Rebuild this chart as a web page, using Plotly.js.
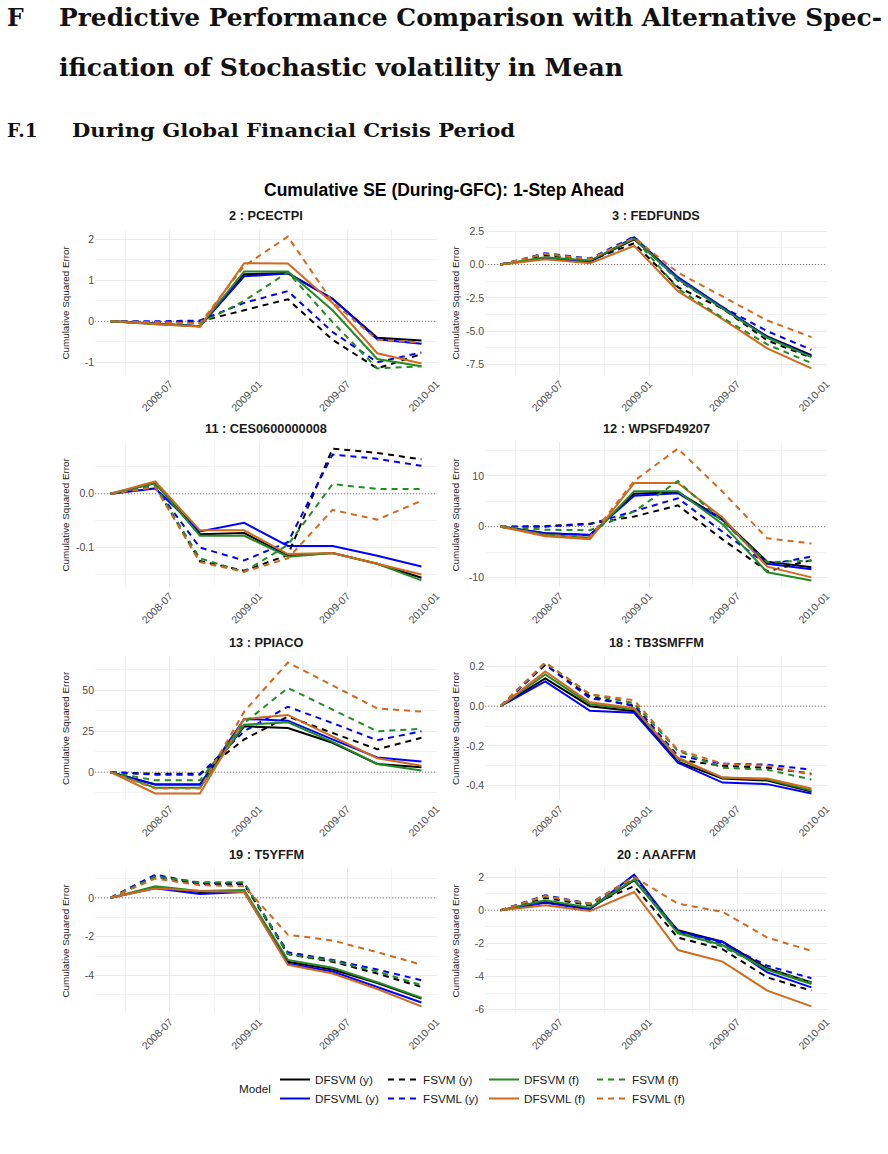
<!DOCTYPE html>
<html>
<head>
<meta charset="utf-8">
<script src="https://cdn.plot.ly/plotly-3.0.1.min.js"></script>
<style>
  html, body { margin: 0; padding: 0; background: #ffffff; }
  #page { position: relative; width: 888px; height: 1154px; overflow: hidden; }
  #chart { position: absolute; left: 0; top: 0; width: 888px; height: 1154px; }
  #heading { position: absolute; left: 0; top: 0; pointer-events: none; }
  #heading text { font-family: "DejaVu Serif", "Liberation Serif", serif; font-weight: bold; fill: #111111; }
</style>
</head>
<body>
<div id="page">
  <div id="chart"></div>
  <svg id="heading" width="888" height="160">
    <text x="7" y="26" font-size="23.5">F</text>
    <text x="59" y="26" font-size="23.5" textLength="823" lengthAdjust="spacingAndGlyphs">Predictive Performance Comparison with Alternative Spec-</text>
    <text x="59" y="76" font-size="23.5" textLength="564" lengthAdjust="spacingAndGlyphs">ification of Stochastic volatility in Mean</text>
    <text x="7" y="137" font-size="18.5">F.1</text>
    <text x="72" y="137" font-size="18.5" textLength="443" lengthAdjust="spacingAndGlyphs">During Global Financial Crisis Period</text>
  </svg>
</div>
<script>
// Forecast origins (quarterly) and model names
const dates = ["2008-03-01", "2008-06-01", "2008-09-01", "2008-12-01",
               "2009-03-01", "2009-06-01", "2009-09-01", "2009-12-01"];
const models = ["DFSVM (y)", "DFSVML (y)", "FSVM (y)", "FSVML (y)",
                "DFSVM (f)", "DFSVML (f)", "FSVM (f)", "FSVML (f)"];

// Cumulative squared error by series, one array per model (same order as `models`)
const PCECTPI = [
  [0, -0.05, -0.12, 1.15, 1.18, 0.55, -0.40, -0.47],
  [0, -0.06, -0.12, 1.10, 1.17, 0.55, -0.44, -0.55],
  [0, -0.02, 0.00, 0.27, 0.54, -0.45, -1.15, -0.80],
  [0, 0.00, 0.02, 0.45, 0.74, -0.26, -1.00, -0.76],
  [0, -0.07, -0.12, 1.22, 1.22, 0.27, -0.92, -1.10],
  [0, -0.06, -0.13, 1.42, 1.41, 0.45, -0.78, -1.03],
  [0, -0.02, -0.05, 0.50, 1.20, -0.02, -1.15, -1.10],
  [0, -0.03, -0.05, 1.35, 2.07, 0.47, -0.45, -0.52]
];
const FEDFUNDS = [
  [0, 0.50, 0.25, 1.90, -1.00, -3.30, -5.40, -6.80],
  [0, 0.50, 0.20, 2.05, -0.95, -3.20, -5.45, -6.90],
  [0, 0.70, 0.30, 1.60, -1.70, -3.30, -5.70, -7.00],
  [0, 0.85, 0.45, 2.10, -1.20, -3.20, -5.00, -6.40],
  [0, 0.55, 0.30, 1.95, -1.10, -3.30, -5.50, -6.95],
  [0, 0.40, 0.10, 1.40, -2.00, -4.10, -6.30, -7.80],
  [0, 0.80, 0.40, 2.00, -1.80, -4.00, -6.00, -7.40],
  [0, 0.80, 0.40, 2.00, -0.60, -2.40, -4.20, -5.45]
];
const CES0600000008 = [
  [0, 0.020, -0.075, -0.073, -0.115, -0.110, -0.130, -0.156],
  [0, 0.010, -0.070, -0.054, -0.097, -0.097, -0.115, -0.135],
  [0, 0.015, -0.125, -0.143, -0.114, 0.084, 0.076, 0.064],
  [0, 0.012, -0.100, -0.124, -0.090, 0.073, 0.065, 0.052],
  [0, 0.020, -0.078, -0.078, -0.117, -0.110, -0.130, -0.161],
  [0, 0.023, -0.068, -0.068, -0.112, -0.110, -0.130, -0.150],
  [0, 0.015, -0.120, -0.145, -0.095, 0.018, 0.009, 0.009],
  [0, 0.012, -0.127, -0.145, -0.120, -0.030, -0.048, -0.013]
];
const WPSFD49207 = [
  [0, -1.3, -1.7, 6.5, 6.8, 1.5, -6.9, -8.0],
  [0, -1.3, -1.6, 6.1, 6.6, 1.3, -7.3, -8.4],
  [0, 0.1, 0.6, 2.0, 4.2, -2.5, -8.8, -6.6],
  [0, 0.0, 0.5, 3.0, 5.6, -1.0, -7.5, -5.9],
  [0, -1.6, -2.2, 7.0, 7.0, 0.5, -9.0, -10.6],
  [0, -1.9, -2.5, 8.6, 8.6, 1.8, -7.9, -10.0],
  [0, -0.6, -0.7, 3.0, 9.0, 1.0, -7.0, -6.7],
  [0, -1.7, -2.0, 9.0, 15.4, 6.9, -2.3, -3.3]
];
const PPIACO = [
  [0, -7.5, -7.5, 28.0, 27.0, 18.0, 5.0, 3.0],
  [0, -7.5, -7.5, 32.5, 31.5, 20.0, 9.0, 6.5],
  [0, -1.0, -1.0, 20.0, 34.0, 24.0, 14.0, 21.0],
  [0, -1.5, -1.5, 25.0, 40.0, 30.0, 19.5, 25.0],
  [0, -9.5, -9.5, 29.0, 30.5, 18.5, 5.0, 1.0],
  [0, -13.0, -13.0, 32.5, 35.0, 21.5, 8.5, 4.0],
  [0, -5.0, -5.0, 30.0, 51.5, 38.0, 25.0, 26.5],
  [0, -10.0, -10.0, 37.0, 67.0, 53.0, 39.0, 37.0]
];
const TB3SMFFM = [
  [0, 0.140, 0.000, -0.025, -0.280, -0.365, -0.375, -0.430],
  [0, 0.125, -0.023, -0.033, -0.285, -0.385, -0.393, -0.440],
  [0, 0.210, 0.050, 0.000, -0.270, -0.300, -0.310, -0.340],
  [0, 0.210, 0.040, 0.005, -0.250, -0.290, -0.295, -0.320],
  [0, 0.160, 0.010, -0.015, -0.265, -0.360, -0.370, -0.425],
  [0, 0.175, 0.020, -0.010, -0.260, -0.360, -0.365, -0.415],
  [0, 0.220, 0.060, 0.015, -0.225, -0.310, -0.320, -0.370],
  [0, 0.220, 0.060, 0.030, -0.220, -0.290, -0.300, -0.345]
];
const T5YFFM = [
  [0, 0.55, 0.30, 0.35, -3.30, -3.70, -4.40, -5.20],
  [0, 0.50, 0.20, 0.30, -3.40, -3.80, -4.60, -5.40],
  [0, 1.10, 0.70, 0.70, -2.90, -3.30, -3.90, -4.60],
  [0, 1.20, 0.75, 0.75, -2.80, -3.20, -3.70, -4.25],
  [0, 0.60, 0.35, 0.40, -3.20, -3.60, -4.35, -5.15],
  [0, 0.50, 0.35, 0.30, -3.45, -3.90, -4.70, -5.60],
  [0, 1.10, 0.80, 0.80, -2.90, -3.25, -3.80, -4.50],
  [0, 1.00, 0.65, 0.60, -1.90, -2.20, -2.80, -3.45]
];
const AAAFFM = [
  [0, 0.50, 0.10, 1.80, -1.20, -1.90, -3.50, -4.35],
  [0, 0.45, 0.05, 2.15, -1.30, -1.90, -3.75, -4.65],
  [0, 0.75, 0.30, 1.45, -1.65, -2.35, -4.05, -4.85],
  [0, 0.90, 0.40, 2.00, -1.30, -2.00, -3.35, -4.10],
  [0, 0.60, 0.15, 1.85, -1.40, -2.10, -3.60, -4.45],
  [0, 0.30, -0.05, 1.10, -2.40, -3.10, -4.85, -5.80],
  [0, 0.85, 0.35, 1.90, -1.30, -2.20, -3.55, -4.35],
  [0, 0.85, 0.40, 2.00, 0.40, -0.10, -1.65, -2.45]
];

// Panel titles and y tick values
const panelTitles = ["2 : PCECTPI", "3 : FEDFUNDS", "11 : CES0600000008", "12 : WPSFD49207",
                     "13 : PPIACO", "18 : TB3SMFFM", "19 : T5YFFM", "20 : AAAFFM"];
const yTicks = [
  [-1, 0, 1, 2],
  [-7.5, -5, -2.5, 0, 2.5],
  [-0.1, 0],
  [-10, 0, 10],
  [0, 25, 50],
  [-0.4, -0.2, 0, 0.2],
  [-4, -2, 0],
  [-6, -4, -2, 0, 2]
];
const yTickDecimals = [0, 1, 1, 0, 0, 1, 0, 0];
const xTicks = ["2008-07-01", "2009-01-01", "2009-07-01", "2010-01-01"];
const xTickLabels = ["2008-07", "2009-01", "2009-07", "2010-01"];
const xMinorTicks = ["2008-04-01", "2008-10-01", "2009-04-01", "2009-10-01"];

const panelData = [PCECTPI, FEDFUNDS, CES0600000008, WPSFD49207, PPIACO, TB3SMFFM, T5YFFM, AAAFFM];

// ---- styling ----
const lineColor = {
  "DFSVM (y)": "#000000", "FSVM (y)": "#000000",
  "DFSVML (y)": "#0000FF", "FSVML (y)": "#0000FF",
  "DFSVM (f)": "#228B22", "FSVM (f)": "#228B22",
  "DFSVML (f)": "#D2691E", "FSVML (f)": "#D2691E"
};
const isDashed = m => m.startsWith("FSVM");
const SANS = "Liberation Sans, Arial, Helvetica, sans-serif";
const W = 888, H = 1154;

// plot areas in page pixels
const colX = [[95, 437], [485, 827]];
const rowY = [[230, 375], [442, 587], [656, 800], [868, 1013]];
const fx = px => px / W;
const fy = py => 1 - py / H;

const t0 = Date.parse(dates[0]), t1 = Date.parse(dates[dates.length - 1]);
const xPad = (t1 - t0) * 0.05;
const iso = t => new Date(t).toISOString().slice(0, 10);
const xRange = [iso(t0 - xPad), iso(t1 + xPad)];

const fmtTick = (v, d) => {
  const s = Math.abs(v).toFixed(d);
  return (v < 0 ? "-" : "") + s;
};

const traces = [];
const layout = {
  width: W, height: H,
  margin: {l: 0, r: 0, t: 0, b: 0},
  paper_bgcolor: "#ffffff",
  plot_bgcolor: "#ffffff",
  font: {family: SANS, color: "#1A1A1A"},
  showlegend: true,
  annotations: [],
  shapes: []
};

panelData.forEach((series, p) => {
  const n = p + 1;
  const row = Math.floor(p / 2), col = p % 2;
  const xa = "x" + (n === 1 ? "" : n), ya = "y" + (n === 1 ? "" : n);
  const xKey = "xaxis" + (n === 1 ? "" : n), yKey = "yaxis" + (n === 1 ? "" : n);

  let lo = Infinity, hi = -Infinity;
  series.forEach(arr => arr.forEach(v => { lo = Math.min(lo, v); hi = Math.max(hi, v); }));
  const pad = (hi - lo) * 0.05;

  const ticks = yTicks[p];
  const step = ticks.length > 1 ? ticks[1] - ticks[0] : 1;
  const minor = [];
  for (let v = ticks[0] - step * 2; v <= ticks[ticks.length - 1] + step * 2; v += step) {
    minor.push(+(v + step / 2).toFixed(6));
  }

  layout[xKey] = {
    domain: [fx(colX[col][0]), fx(colX[col][1])],
    anchor: ya,
    type: "date",
    range: xRange,
    tickmode: "array",
    tickvals: xTicks,
    ticktext: xTickLabels,
    tickangle: -45,
    tickfont: {family: SANS, size: 10.5, color: "#4D4D4D"},
    ticks: "",
    showline: false,
    zeroline: false,
    showgrid: true,
    gridcolor: "#EBEBEB",
    gridwidth: 1.1,
    minor: {tickmode: "array", tickvals: xMinorTicks, showgrid: true, gridcolor: "#F3F3F3", gridwidth: 0.6},
    automargin: false,
    fixedrange: true
  };
  layout[yKey] = {
    domain: [fy(rowY[row][1]), fy(rowY[row][0])],
    anchor: xa,
    range: [lo - pad, hi + pad],
    tickmode: "array",
    tickvals: ticks,
    ticktext: ticks.map(v => fmtTick(v, yTickDecimals[p])),
    tickfont: {family: SANS, size: 10.5, color: "#4D4D4D"},
    ticks: "",
    showline: false,
    zeroline: false,
    showgrid: true,
    gridcolor: "#EBEBEB",
    gridwidth: 1.1,
    minor: {tickmode: "array", tickvals: minor, showgrid: true, gridcolor: "#F3F3F3", gridwidth: 0.6},
    automargin: false,
    fixedrange: true
  };

  // dotted reference line at zero, spanning the full panel width
  layout.shapes.push({
    type: "line", layer: "between",
    xref: xa, x0: xRange[0], x1: xRange[1],
    yref: ya, y0: 0, y1: 0,
    line: {color: "#7F7F7F", width: 1, dash: "1px,2px"}
  });

  models.forEach((m, i) => {
    traces.push({
      type: "scatter", mode: "lines",
      x: dates, y: series[i],
      xaxis: xa, yaxis: ya,
      name: m,
      legend: ["legend", "legend2", "legend3", "legend4"][Math.floor(i / 2)],
      showlegend: p === 0,
      line: {color: lineColor[m], width: 2, dash: isDashed(m) ? "6px,5px" : "solid"},
      hoverinfo: "skip"
    });
  });

  // panel title
  layout.annotations.push({
    text: "<b>" + panelTitles[p] + "</b>",
    xref: "paper", yref: "paper",
    x: fx((colX[col][0] + colX[col][1]) / 2), y: fy(rowY[row][0] - 14),
    xanchor: "center", yanchor: "middle", showarrow: false,
    font: {family: SANS, size: 12.75, color: "#1A1A1A"}
  });
  // y axis title
  layout.annotations.push({
    text: "Cumulative Squared Error",
    xref: "paper", yref: "paper",
    x: fx(colX[col][0] - 30), y: fy((rowY[row][0] + rowY[row][1]) / 2),
    xanchor: "center", yanchor: "middle", showarrow: false, textangle: -90,
    font: {family: SANS, size: 9.8, color: "#1A1A1A"}
  });
});

// overall title
layout.annotations.push({
  text: "<b>Cumulative SE (During-GFC): 1-Step Ahead</b>",
  xref: "paper", yref: "paper", x: fx(444), y: fy(190),
  xanchor: "center", yanchor: "middle", showarrow: false,
  font: {family: SANS, size: 17.5, color: "#000000"}
});
// legend heading
layout.annotations.push({
  text: "Model",
  xref: "paper", yref: "paper", x: fx(237), y: fy(1088),
  xanchor: "left", yanchor: "middle", showarrow: false,
  font: {family: SANS, size: 11.7, color: "#1A1A1A"}
});

const legendCols = [275, 383, 484, 592];
["legend", "legend2", "legend3", "legend4"].forEach((k, j) => {
  layout[k] = {
    x: fx(legendCols[j]), y: fy(1065),
    xanchor: "left", yanchor: "top",
    orientation: "v",
    bgcolor: "rgba(0,0,0,0)",
    borderwidth: 0,
    tracegroupgap: 0,
    traceorder: "normal",
    font: {family: SANS, size: 11.7, color: "#1A1A1A"}
  };
});

Plotly.newPlot("chart", traces, layout, {displayModeBar: false, responsive: false});
</script>
</body>
</html>
